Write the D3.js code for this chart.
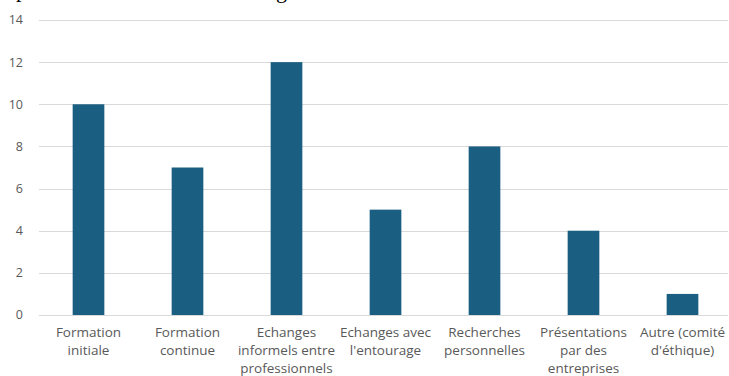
<!DOCTYPE html>
<html>
<head>
<meta charset="utf-8">
<script src="https://cdn.jsdelivr.net/npm/d3@7"></script>
<style>
  body { margin: 0; background: #fff; }
  svg { display: block; }
</style>
</head>
<body>
<svg id="chart"></svg>
<script>
// chart data
const categories = [
    ["Formation", "initiale"],
    ["Formation", "continue"],
    ["Echanges", "informels entre", "professionnels"],
    ["Echanges avec", "l'entourage"],
    ["Recherches", "personnelles"],
    ["Présentations", "par des", "entreprises"],
    ["Autre (comité", "d'éthique)"]
];
const values = [10, 7, 12, 5, 8, 4, 1];
const yTicks = [0, 2, 4, 6, 8, 10, 12, 14];

const width = 729;
const height = 376;

const svg = d3.select("#chart")
    .attr("width", width)
    .attr("height", height);

const x = d3.scaleBand()
    .domain(d3.range(categories.length))
    .range([39, 732])
    .paddingInner(0.68)
    .paddingOuter(0.34);

const y = d3.scaleLinear()
    .domain([0, 14])
    .range([315, 20]);

// title of the page above, cut off by the crop
svg.append("text")
    .attr("x", 16)
    .attr("y", -3)
    .attr("font-family", "Liberation Serif, serif")
    .attr("font-size", 22)
    .attr("fill", "#000")
    .text("p");
svg.append("text")
    .attr("x", 276)
    .attr("y", -2)
    .attr("font-family", "Liberation Serif, serif")
    .attr("font-size", 22)
    .attr("fill", "#000")
    .text("g");

// gridlines
svg.append("g")
    .selectAll("line")
    .data(yTicks)
    .enter()
    .append("line")
    .attr("x1", 39)
    .attr("x2", 728)
    .attr("y1", d => Math.round(y(d)) + 0.5)
    .attr("y2", d => Math.round(y(d)) + 0.5)
    .attr("stroke", "#d9d9d9")
    .attr("stroke-width", 1);

// y labels
svg.append("g")
    .selectAll("text")
    .data(yTicks)
    .enter()
    .append("text")
    .attr("x", 23)
    .attr("y", d => y(d))
    .attr("dy", "0.35em")
    .attr("text-anchor", "end")
    .attr("font-family", "Open Sans, sans-serif")
    .attr("font-size", 12.5)
    .attr("fill", "#595959")
    .text(d => d);

// bars
svg.append("g")
    .selectAll("rect")
    .data(values)
    .enter()
    .append("rect")
    .attr("x", (d, i) => x(i))
    .attr("width", x.bandwidth())
    .attr("y", d => y(d))
    .attr("height", d => y(0) - y(d))
    .attr("fill", "#1a5e82");

// category labels
const labels = svg.append("g")
    .selectAll("text")
    .data(categories)
    .enter()
    .append("text")
    .attr("x", (d, i) => x(i) + x.bandwidth() / 2)
    .attr("y", 337)
    .attr("text-anchor", "middle")
    .attr("font-family", "Open Sans, sans-serif")
    .attr("font-size", 13.5)
    .attr("fill", "#595959");

labels.selectAll("tspan")
    .data(d => d)
    .enter()
    .append("tspan")
    .attr("x", function () { return d3.select(this.parentNode).attr("x"); })
    .attr("dy", (d, i) => i === 0 ? 0 : 18)
    .text(d => d);
</script>
</body>
</html>
